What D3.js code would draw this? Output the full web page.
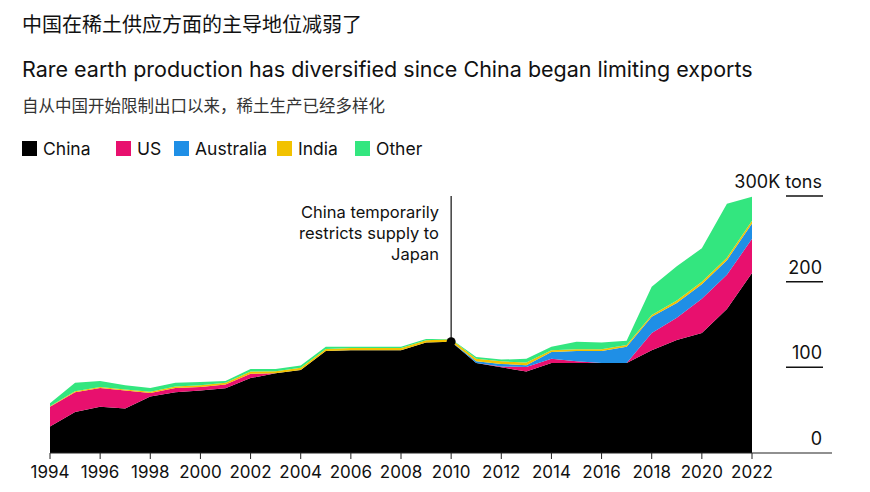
<!DOCTYPE html>
<html>
<head>
<meta charset="utf-8">
<script src="https://cdn.jsdelivr.net/npm/d3@7"></script>
<style>
  body { margin: 0; background: #fff; font-family: "Inter", "Noto Sans", sans-serif; }
</style>
</head>
<body>
<svg id="chart" width="870" height="492"></svg>
<script>
// values in thousand tons
var years = d3.range(1994, 2023);
var china = [31, 48, 54, 52, 66, 71, 73, 75.5, 87.5, 93, 97, 119, 120, 120, 120, 129, 130, 105, 100, 95, 105, 105, 105, 105, 120, 132, 140, 168, 210];
var us = [23, 23, 22, 21, 4, 5, 4, 4.5, 5, 0, 0, 0, 0, 0, 0, 0, 0, 0, 1, 5.5, 5, 2, 0, 0, 20, 26, 40, 40, 40];
var australia = [0, 0, 0, 0, 0, 0, 0, 0, 0, 0, 0, 0, 0, 0, 0, 0, 0, 2, 3, 2, 8, 12, 14, 19, 19, 17, 17, 17, 18];
var india = [0.5, 1, 1, 1, 1.5, 1.5, 2, 2, 2.5, 2.5, 2.5, 2.5, 2.5, 2.7, 2.7, 2.7, 2.7, 3, 3, 3, 2, 2, 2, 2, 2, 3, 3, 3, 3];
var other = [3.5, 10, 7, 5, 4.5, 4.5, 4, 2, 3, 2.5, 2.5, 2.5, 1.5, 1.3, 1.3, 1.3, 0.3, 2, 2, 4.5, 4, 9, 8, 5, 33, 40, 39, 63, 28];
var seriesNames = ["China", "US", "Australia", "India", "Other"];
var colors = ["#000000", "#e8106e", "#1f8fe6", "#f2c200", "#33e67f"];
var yTicks = [0, 100, 200, 300];
var xTicks = d3.range(1994, 2023, 2);

var svg = d3.select("#chart");

var rows = years.map(function(y, i) {
	return { year: y, China: china[i], US: us[i], Australia: australia[i], India: india[i], Other: other[i] };
});
var stacked = d3.stack().keys(seriesNames)(rows);

var x = d3.scaleLinear().domain([1994, 2022]).range([50, 752]);
var y = d3.scaleLinear().domain([0, 300]).range([453, 196]);

// titles
svg.append("text").attr("x", 22).attr("y", 32)
	.style("font-family", "Noto Sans CJK SC").style("font-size", "20px").attr("fill", "#111")
	.text("中国在稀土供应方面的主导地位减弱了");
svg.append("text").attr("x", 22).attr("y", 77)
	.style("font-size", "21.5px").attr("fill", "#111")
	.text("Rare earth production has diversified since China began limiting exports");
svg.append("text").attr("x", 22).attr("y", 112)
	.style("font-family", "Noto Sans CJK SC").style("font-size", "16.5px").attr("fill", "#333")
	.text("自从中国开始限制出口以来，稀土生产已经多样化");

// legend
var legendX = [22, 116, 174, 277, 355];
seriesNames.forEach(function(name, i) {
	var g = svg.append("g").attr("transform", "translate(" + legendX[i] + ",141)");
	g.append("rect").attr("width", 15).attr("height", 15).attr("fill", colors[i]);
	g.append("text").attr("x", 21).attr("y", 14).style("font-size", "17.5px").attr("fill", "#111").text(name);
});

// areas
var area = d3.area()
	.x(function(d) { return x(d.data.year); })
	.y0(function(d) { return y(d[0]); })
	.y1(function(d) { return y(d[1]); });
svg.selectAll("path.layer").data(stacked).enter().append("path")
	.attr("class", "layer")
	.attr("fill", function(d, i) { return colors[i]; })
	.attr("d", area);

// x axis
svg.append("line").attr("x1", 50).attr("x2", 832).attr("y1", y(0)).attr("y2", y(0))
	.attr("stroke", "#222").attr("stroke-width", 1.2);
svg.selectAll("line.xt").data(xTicks).enter().append("line")
	.attr("x1", function(d) { return x(d); }).attr("x2", function(d) { return x(d); })
	.attr("y1", y(0)).attr("y2", y(0) + 6).attr("stroke", "#222");
svg.selectAll("text.xt").data(xTicks).enter().append("text")
	.attr("x", function(d) { return x(d); }).attr("y", 478)
	.attr("text-anchor", "middle").style("font-size", "17px").attr("fill", "#111")
	.text(function(d) { return d; });

// y axis on right
svg.selectAll("line.yt").data(yTicks.slice(1)).enter().append("line")
	.attr("x1", 786).attr("x2", 823)
	.attr("y1", function(d) { return y(d); }).attr("y2", function(d) { return y(d); })
	.attr("stroke", "#111").attr("stroke-width", 1.5);
svg.selectAll("text.yt").data(yTicks).enter().append("text")
	.attr("x", 822).attr("y", function(d) { return y(d) - 8; })
	.attr("text-anchor", "end").style("font-size", "18px").attr("fill", "#111")
	.text(function(d) { return d === 300 ? "300K tons" : d; });

// annotation
var top2010 = y(china[16]);
svg.append("line").attr("x1", x(2010)).attr("x2", x(2010)).attr("y1", 196).attr("y2", top2010)
	.attr("stroke", "#111").attr("stroke-width", 1.2);
svg.append("circle").attr("cx", x(2010)).attr("cy", top2010).attr("r", 4.5).attr("fill", "#000");
["China temporarily", "restricts supply to", "Japan"].forEach(function(t, i) {
	svg.append("text").attr("x", 439).attr("y", 218 + i * 21)
		.attr("text-anchor", "end").style("font-size", "16.5px").attr("fill", "#111").text(t);
});
</script>
</body>
</html>
